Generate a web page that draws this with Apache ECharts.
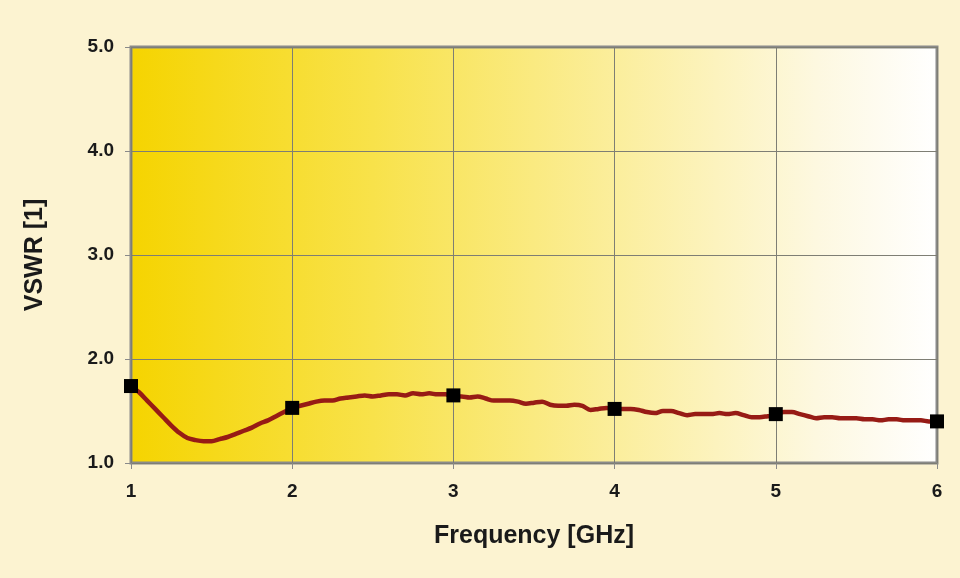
<!DOCTYPE html>
<html>
<head>
<meta charset="utf-8">
<script src="https://cdn.jsdelivr.net/npm/echarts@6/dist/echarts.min.js"></script>
<style>
  html, body { margin: 0; padding: 0; background: #fcf3d1; }
  #chart { width: 960px; height: 578px; }
</style>
</head>
<body>
<div id="chart"></div>
<script>
//--------------------------------
// Data
//--------------------------------
const freq = [
    1.00, 1.05, 1.10, 1.15, 1.20, 1.25, 1.30, 1.35, 1.40, 1.45,
    1.50, 1.55, 1.60, 1.65, 1.70, 1.75, 1.80, 1.85, 1.90, 1.95,
    2.00, 2.05, 2.10, 2.15, 2.20, 2.25, 2.30, 2.35, 2.40, 2.45,
    2.50, 2.55, 2.60, 2.65, 2.70, 2.75, 2.80, 2.85, 2.90, 2.95,
    3.00, 3.05, 3.10, 3.15, 3.20, 3.25, 3.30, 3.35, 3.40, 3.45,
    3.50, 3.55, 3.60, 3.65, 3.70, 3.75, 3.80, 3.85, 3.90, 3.95,
    4.00, 4.05, 4.10, 4.15, 4.20, 4.25, 4.30, 4.35, 4.40, 4.45,
    4.50, 4.55, 4.60, 4.65, 4.70, 4.75, 4.80, 4.85, 4.90, 4.95,
    5.00, 5.05, 5.10, 5.15, 5.20, 5.25, 5.30, 5.35, 5.40, 5.45,
    5.50, 5.55, 5.60, 5.65, 5.70, 5.75, 5.80, 5.85, 5.90, 5.95,
    6.00
];
const vswr = [
    1.74, 1.68, 1.60, 1.52, 1.44, 1.36, 1.29, 1.24, 1.22, 1.21,
    1.21, 1.23, 1.25, 1.28, 1.31, 1.34, 1.38, 1.41, 1.45, 1.49,
    1.53, 1.55, 1.57, 1.59, 1.60, 1.60, 1.62, 1.63, 1.64, 1.65,
    1.64, 1.65, 1.66, 1.66, 1.65, 1.67, 1.66, 1.67, 1.66, 1.66,
    1.64, 1.64, 1.63, 1.64, 1.62, 1.60, 1.60, 1.60, 1.59, 1.57,
    1.58, 1.59, 1.56, 1.55, 1.55, 1.56, 1.55, 1.51, 1.52, 1.53,
    1.52, 1.52, 1.52, 1.51, 1.49, 1.48, 1.50, 1.50, 1.48, 1.46,
    1.47, 1.47, 1.47, 1.48, 1.47, 1.48, 1.46, 1.44, 1.44, 1.45,
    1.46, 1.49, 1.49, 1.47, 1.45, 1.43, 1.44, 1.44, 1.43, 1.43,
    1.43, 1.42, 1.42, 1.41, 1.42, 1.42, 1.41, 1.41, 1.41, 1.40,
    1.40
];
const markerFreq = [1, 2, 3, 4, 5, 6];
const markerVswr = [1.74, 1.53, 1.65, 1.52, 1.47, 1.40];

const xName = 'Frequency [GHz]';
const yName = 'VSWR [1]';

//--------------------------------
// Chart
//--------------------------------
const myChart = echarts.init(document.getElementById('chart'));

const lineData = freq.map((f, i) => [f, vswr[i]]);
const markerData = markerFreq.map((f, i) => [f, markerVswr[i]]);

const labelFont = {
    color: '#1a1a1a',
    fontFamily: 'Liberation Sans, Arial, sans-serif',
    fontWeight: 'bold',
    fontSize: 19
};

const options = {
    backgroundColor: '#fcf3d1',
    animation: false,
    grid: {
        left: 131,
        right: 23,
        top: 47,
        bottom: 115,
        show: true,
        borderColor: '#8a8a8a',
        borderWidth: 3,
        backgroundColor: {
            type: 'linear',
            x: 0, y: 0, x2: 1, y2: 0,
            colorStops: [
                { offset: 0, color: '#f5d400' },
                { offset: 0.3, color: '#f8e24a' },
                { offset: 0.6, color: '#fbee9c' },
                { offset: 0.85, color: '#fdf8e0' },
                { offset: 1, color: '#ffffff' }
            ]
        }
    },
    xAxis: {
        type: 'value',
        min: 1,
        max: 6,
        interval: 1,
        name: xName,
        nameLocation: 'middle',
        nameGap: 61,
        nameTextStyle: { ...labelFont, fontSize: 25 },
        axisLine: { show: false },
        axisTick: { show: true, length: 6, lineStyle: { color: '#8a8a8a', width: 1 } },
        axisLabel: { ...labelFont, margin: 19 },
        splitLine: { show: true, lineStyle: { color: '#7e7e74', width: 1 } }
    },
    yAxis: {
        type: 'value',
        min: 1,
        max: 5,
        interval: 1,
        name: yName,
        nameLocation: 'middle',
        nameGap: 83,
        nameRotate: 90,
        nameTextStyle: { ...labelFont, fontSize: 25 },
        axisLine: { show: false },
        axisTick: { show: true, length: 6, lineStyle: { color: '#8a8a8a', width: 1 } },
        axisLabel: { ...labelFont, margin: 17, formatter: (v) => v.toFixed(1) },
        splitLine: { show: true, lineStyle: { color: '#7e7e74', width: 1 } }
    },
    series: [
        {
            type: 'line',
            data: lineData,
            showSymbol: false,
            smooth: 0.3,
            lineStyle: { color: '#971b15', width: 4.5 },
            z: 2
        },
        {
            type: 'scatter',
            data: markerData,
            symbol: 'rect',
            symbolSize: 14,
            itemStyle: { color: '#000000', opacity: 1 },
            z: 3
        }
    ]
};

myChart.setOption(options);
</script>
</body>
</html>
